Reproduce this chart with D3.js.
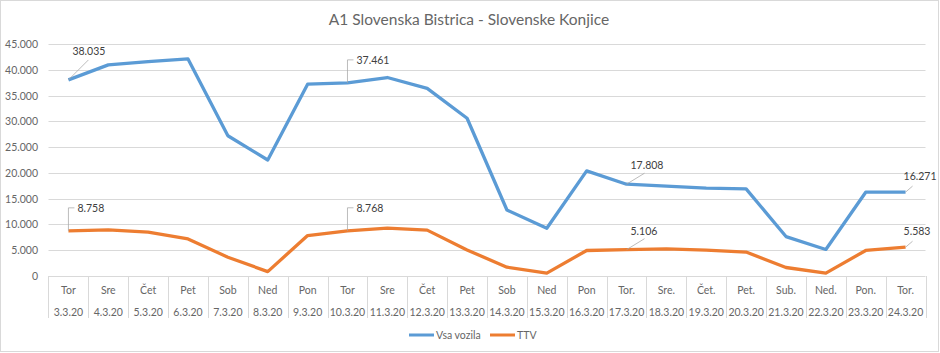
<!DOCTYPE html>
<html>
<head>
<meta charset="utf-8">
<script src="https://cdn.jsdelivr.net/npm/d3@7"></script>
<style>
    body { margin: 0; background: #fff; }
    svg { display: block; font-family: Lato, 'Open Sans', sans-serif; }
</style>
</head>
<body>
<svg width="940" height="353"></svg>
<script>
const days = ['Tor', 'Sre', 'Čet', 'Pet', 'Sob', 'Ned', 'Pon', 'Tor', 'Sre', 'Čet', 'Pet',
    'Sob', 'Ned', 'Pon', 'Tor.', 'Sre.', 'Čet.', 'Pet.', 'Sub.', 'Ned.', 'Pon.', 'Tor.'];
const dates = ['3.3.20', '4.3.20', '5.3.20', '6.3.20', '7.3.20', '8.3.20', '9.3.20', '10.3.20',
    '11.3.20', '12.3.20', '13.3.20', '14.3.20', '15.3.20', '16.3.20', '17.3.20', '18.3.20',
    '19.3.20', '20.3.20', '21.3.20', '22.3.20', '23.3.20', '24.3.20'];
const vsaVozila = [38035, 40950, 41600, 42100, 27200, 22500, 37200, 37461, 38500, 36400, 30600,
    12800, 9250, 20400, 17808, 17450, 17050, 16900, 7650, 5150, 16250, 16271];
const ttv = [8758, 8950, 8500, 7200, 3650, 850, 7850, 8768, 9300, 8900, 5050,
    1700, 550, 4950, 5106, 5250, 5000, 4650, 1650, 550, 4950, 5583];
const yTicks = [0, 5000, 10000, 15000, 20000, 25000, 30000, 35000, 40000, 45000];

const svg = d3.select('svg');
const fmt = (v) => d3.format(',')(v).replace(/,/g, '.');
const textCol = '#666666';

// okvir
svg.append('rect')
    .attr('x', 0.5).attr('y', 0.5)
    .attr('width', 938).attr('height', 351)
    .attr('fill', 'none').attr('stroke', '#d9d9d9');

svg.append('text')
    .attr('x', 469).attr('y', 25)
    .attr('text-anchor', 'middle')
    .attr('font-size', 15.5)
    .attr('fill', textCol)
    .text('A1 Slovenska Bistrica - Slovenske Konjice');

const x = d3.scaleBand().domain(d3.range(days.length)).range([48.5, 925.5]);
const y = d3.scaleLinear().domain([0, 45000]).range([276, 44]);

// mreža
svg.append('g')
    .selectAll('line')
    .data(yTicks)
    .join('line')
    .attr('x1', 48.5).attr('x2', 925.5)
    .attr('y1', (d) => Math.round(y(d)) + 0.5)
    .attr('y2', (d) => Math.round(y(d)) + 0.5)
    .attr('stroke', '#d9d9d9');

svg.append('g')
    .selectAll('text')
    .data(yTicks)
    .join('text')
    .attr('x', 38)
    .attr('y', (d) => y(d) + 4)
    .attr('text-anchor', 'end')
    .attr('font-size', 10.5)
    .attr('fill', textCol)
    .text((d) => fmt(d));

// kategorije
const sep = d3.range(days.length + 1).map((i) => (i < days.length ? x(i) : x.range()[1]));
svg.append('g')
    .selectAll('line')
    .data(sep)
    .join('line')
    .attr('x1', (d) => Math.round(d) + 0.5).attr('x2', (d) => Math.round(d) + 0.5)
    .attr('y1', 276).attr('y2', 318)
    .attr('stroke', '#d9d9d9');

const cats = svg.append('g')
    .selectAll('g')
    .data(days)
    .join('g')
    .attr('transform', (d, i) => `translate(${x(i) + x.bandwidth() / 2},0)`)
    .attr('font-size', 10.5)
    .attr('fill', textCol)
    .attr('text-anchor', 'middle');
cats.append('text').attr('y', 294).text((d) => d);
cats.append('text').attr('y', 316).text((d, i) => dates[i]);

const line = d3.line()
    .x((d, i) => x(i) + x.bandwidth() / 2)
    .y((d) => y(d));

svg.append('path')
    .attr('d', line(vsaVozila))
    .attr('fill', 'none')
    .attr('stroke', '#5B9BD5')
    .attr('stroke-width', 3.3)
    .attr('stroke-linejoin', 'round');

svg.append('path')
    .attr('d', line(ttv))
    .attr('fill', 'none')
    .attr('stroke', '#ED7D31')
    .attr('stroke-width', 3.3)
    .attr('stroke-linejoin', 'round');

// oznake s črtami
const addLabel = (series, i, kind) => {
    const px = x(i) + x.bandwidth() / 2;
    const py = y(series[i]);
    const g = svg.append('g');
    let pts, tx, ty;
    if (kind === 'elbow') {
        pts = [[px, py], [px, py - 23], [px + 6, py - 23]];
        tx = px + 9; ty = py - 23;
    } else if (kind === 'diag') {
        pts = [[px, py], [px + 20, py - 20]];
        tx = px + 4; ty = py - 29;
    } else if (kind === 'diag2') {
        pts = [[px, py], [px + 18, py - 11]];
        tx = px + 4; ty = py - 19;
    } else {
        pts = [[px, py], [px + 7, py - 6]];
        tx = px - 2; ty = py - 16;
    }
    g.append('path')
        .attr('d', d3.line()(pts))
        .attr('fill', 'none')
        .attr('stroke', '#a6a6a6')
        .attr('stroke-width', 0.75);
    g.append('text')
        .attr('x', tx).attr('y', ty + 4)
        .attr('font-size', 10.5)
        .attr('fill', '#404040')
        .text(fmt(series[i]));
};
addLabel(vsaVozila, 0, 'diag');
addLabel(vsaVozila, 7, 'elbow');
addLabel(vsaVozila, 14, 'diag2');
addLabel(vsaVozila, 21, 'short');
addLabel(ttv, 0, 'elbow');
addLabel(ttv, 7, 'elbow');
addLabel(ttv, 14, 'diag2');
addLabel(ttv, 21, 'short');

// legenda
const legend = [
    { name: 'Vsa vozila', color: '#5B9BD5', x: 409 },
    { name: 'TTV', color: '#ED7D31', x: 490 }
];
const lg = svg.append('g')
    .selectAll('g')
    .data(legend)
    .join('g')
    .attr('transform', (d) => `translate(${d.x},335)`);
lg.append('line')
    .attr('x1', 0).attr('x2', 25)
    .attr('stroke', (d) => d.color)
    .attr('stroke-width', 3);
lg.append('text')
    .attr('x', 27).attr('y', 4)
    .attr('font-size', 10.5)
    .attr('fill', textCol)
    .text((d) => d.name);
</script>
</body>
</html>
